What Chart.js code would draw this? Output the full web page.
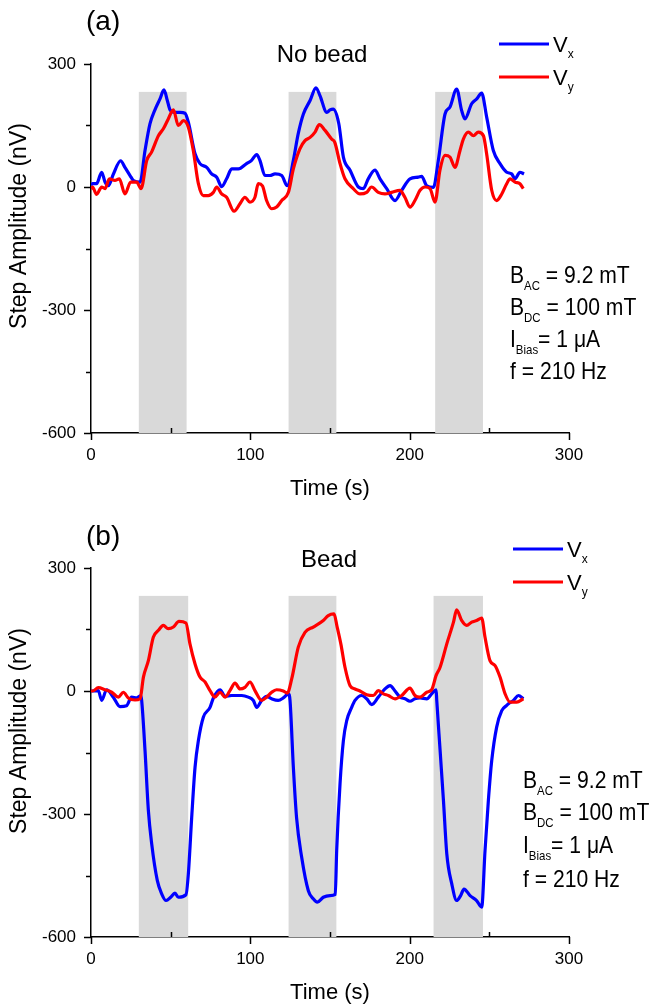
<!DOCTYPE html>
<html>
<head>
<meta charset="utf-8">
<script src="https://cdn.jsdelivr.net/npm/chart.js@4.4.1/dist/chart.umd.min.js"></script>
<style>
  html, body { margin: 0; padding: 0; background: #fff; }
  .panel { position: absolute; left: 0; width: 650px; height: 503px; }
</style>
</head>
<body>
<div class="panel" style="top:0"><canvas id="chartA" width="650" height="503"></canvas></div>
<div class="panel" style="top:504px"><canvas id="chartB" width="650" height="503"></canvas></div>
<script>
// ---- data (time in s, amplitude in nV) ----
const timeVxA = [0, 1, 3.5, 6.7, 8.8, 10.9, 14, 18.6, 21.3, 24.5, 26.6, 30.8, 33.9, 37, 40, 43.3, 45.8, 47.9, 49.6, 52.7, 55.9, 59, 61.1, 65.3, 68.4, 72.6, 75.7, 78.9, 82, 85.1, 88.3, 92.5, 97.6, 100.8, 104, 106, 109.2, 112.3, 115.5, 119.7, 123.2, 127, 130, 133.3, 137.5, 141.2, 143.7, 148, 150, 152, 155.5, 158.4, 162.6, 167.8, 170.9, 174, 178.2, 181.4, 185.6, 190.8, 195, 200.2, 205.4, 207.5, 210.7, 214.9, 218, 222.2, 225.3, 229.5, 232.6, 234.7, 238.9, 242.1, 245.2, 248.3, 252.5, 256.7, 260.9, 264, 266.1, 269.2, 271.8];
const vxA = [5, 8, 8, 36, 12, 3, 31, 64, 48, 28, 16, 12, 89, 154, 187, 215, 237, 211, 188, 182, 182, 180, 158, 81, 57, 48, 32, 24, 1, 20, 44, 44, 57, 65, 79, 65, 28, 28, 32, 28, 3, 65, 129, 178, 211, 242, 223, 182, 188, 190, 155, 73, 41, 0, -4, 20, 41, 20, -4, -33, -8, 20, 24, 26, 3, -1, 65, 178, 195, 239, 187, 166, 203, 215, 229, 171, 89, 57, 36, 32, 20, 36, 32];

const timeVyA = [0, 1, 3.5, 6.7, 8.8, 11.5, 15, 17.8, 21.3, 24.9, 28.7, 31.4, 35, 38, 42.3, 45.4, 48.5, 51.7, 54.8, 58, 61.1, 64.2, 67.4, 70.5, 73.6, 76.8, 78.9, 82, 85.1, 89.8, 93.5, 96.6, 99.7, 102.9, 105, 107.6, 110.2, 113.4, 116.5, 119.7, 123.9, 127, 131.1, 134.3, 137.5, 140.6, 143.3, 146.9, 151, 153, 156.3, 159.4, 164.6, 168.8, 173, 176.1, 180.3, 184.5, 188.7, 193.9, 197, 200.2, 203.3, 206.5, 209.6, 212.8, 215.9, 219, 222.2, 225.3, 228.4, 231.6, 233.7, 236.8, 240, 243.1, 246.3, 248.3, 251.5, 254.6, 257.8, 260.9, 263, 266.1, 269.2, 271.3];
const vyA = [-5, 0, -18, 0, -4, 20, 16, 20, -17, 12, 12, -4, 65, 85, 125, 142, 166, 188, 150, 162, 146, 89, 8, -21, -21, -13, 0, -17, -25, -59, -41, -25, -37, -25, 8, 3, -33, -53, -49, -33, -13, 44, 93, 113, 121, 134, 152, 138, 117, 109, 57, 20, -4, -17, -13, 0, -13, -17, -13, -8, -25, -49, -33, -8, 0, -4, -37, 41, 77, 73, 48, 89, 117, 134, 125, 134, 125, 81, -8, -33, -17, 8, 20, 12, 8, -4];

const timeVxB = [0, 1, 4.6, 6.7, 9.8, 14, 18.2, 22.3, 25.5, 28.7, 31.2, 31.8, 33.9, 36, 38.1, 41.6, 44.4, 47.1, 50, 52.7, 54.8, 59.6, 61.1, 63.2, 65.3, 67.4, 70.5, 74.7, 76.8, 81, 84.1, 88.3, 94.6, 98.7, 101.9, 104, 107.1, 110.2, 113.4, 117.5, 120.7, 123.9, 124.9, 127, 129, 132.2, 136.4, 139.5, 142, 145.8, 150, 153.3, 154.2, 156.3, 158.4, 160.5, 163.6, 165.7, 169.9, 173, 176.2, 180.3, 184.5, 187.7, 190.8, 194, 197.1, 200.2, 203.3, 206.5, 210.7, 213.8, 216.6, 217, 219.1, 221.2, 223.3, 226.4, 229.5, 232, 234.1, 237.9, 242, 245.2, 247.3, 249.4, 251.5, 254.6, 257.8, 260.9, 262, 265.1, 268.3, 271.4];
const vxB = [0, 0, 1, -23, 3, -15, -38, -36, -15, -17, -11, -23, -145, -291, -373, -462, -495, -511, -503, -493, -503, -497, -446, -308, -186, -121, -64, -40, -17, 3, -13, -11, -11, -15, -23, -40, -23, -13, -19, -23, -17, -7, -23, -186, -308, -405, -487, -507, -515, -503, -499, -496, -389, -226, -121, -72, -40, -23, -11, -19, -33, -15, 5, 13, 0, -15, -19, -25, -19, -17, -19, -7, 3, -23, -145, -267, -397, -470, -511, -499, -483, -499, -511, -527, -389, -267, -170, -88, -48, -35, -31, -23, -11, -19];

const timeVyB = [0, 1, 4.6, 8.8, 13, 17.2, 20.3, 23.4, 27.6, 30.8, 32.9, 36, 39.1, 42.3, 45.4, 48.5, 51.7, 55.2, 59.6, 62.1, 65.3, 68.4, 71.6, 74.7, 77.8, 81, 84.1, 87.2, 90.4, 93.5, 96.6, 99.8, 102.9, 107.1, 110.2, 113.4, 116.5, 120.7, 123.2, 126, 130.1, 134.3, 139.5, 145.8, 148.9, 152.5, 154.5, 156.8, 159.4, 162.6, 165.7, 168.8, 173, 177.2, 180.3, 183.5, 186.6, 190.8, 195, 200.2, 203.3, 206.5, 210.7, 213.8, 216.6, 219.1, 223.3, 227.5, 229.5, 232.6, 235.8, 238.9, 242.1, 245.2, 247.3, 250.4, 253.6, 256.7, 259.9, 263, 267.2, 271.4];
const vyB = [0, 0, 8, 3, -3, -15, -3, -17, -22, -19, 34, 74, 131, 148, 160, 152, 156, 170, 166, 115, 66, 34, 22, 1, -15, -3, -15, 1, 19, 5, 9, 22, 1, -23, -15, -3, 3, 0, -5, 30, 107, 143, 156, 172, 184, 188, 156, 115, 58, 13, 5, 0, -9, -11, 1, -7, -11, -19, -11, 7, -11, -15, -3, 3, 38, 58, 115, 168, 198, 172, 160, 168, 172, 178, 131, 74, 62, 34, -7, -27, -27, -19];

// field-on intervals (grey bands)
const shadeStartA = [30, 124, 216];
const shadeEndA = [60, 154, 246];
const shadeStartB = [30, 124, 215];
const shadeEndB = [61, 154, 246];
const shadeTop = 232;

const xTickValues = [0, 50, 100, 150, 200, 250, 300];
const yTickValues = [300, 150, 0, -150, -300, -450, -600];

const FONT = '"Liberation Sans", Arial, sans-serif';

function toPoints(times, values) {
    return times.map((t, i) => ({ x: t, y: values[i] }));
}

// text with subscripts: parts = [[text, isSub], ...], sx squeezes horizontally
function drawRich(ctx, x, y, parts, size, sx) {
    ctx.save();
    ctx.translate(x, y);
    ctx.scale(sx || 1, 1);
    let cx = 0;
    parts.forEach(([txt, sub]) => {
        const s = sub ? Math.round(size * 0.55) : size;
        ctx.font = s + 'px ' + FONT;
        ctx.fillText(txt, cx, sub ? size * 0.28 : 0);
        cx += ctx.measureText(txt).width;
    });
    ctx.restore();
}

const decorPlugin = {
    id: 'decor',
    beforeDatasetsDraw(chart, args, opts) {
        const { ctx, scales: { x, y } } = chart;
        ctx.save();
        ctx.fillStyle = '#d9d9d9';
        opts.shadeStart.forEach((s, i) => {
            const x0 = x.getPixelForValue(s);
            const x1 = x.getPixelForValue(opts.shadeEnd[i]);
            const yt = y.getPixelForValue(shadeTop);
            const yb = y.getPixelForValue(-600);
            ctx.fillRect(x0, yt, x1 - x0, yb - yt);
        });
        ctx.restore();
    },
    afterDraw(chart, args, opts) {
        const { ctx, chartArea, scales: { x, y } } = chart;
        ctx.save();
        ctx.strokeStyle = '#000';
        ctx.lineWidth = 1.5;
        // y ticks, all outward
        yTickValues.forEach(v => {
            const py = Math.round(y.getPixelForValue(v)) + 0.5;
            const len = v % 300 === 0 ? 7 : 5;
            ctx.beginPath();
            ctx.moveTo(chartArea.left, py);
            ctx.lineTo(chartArea.left - len, py);
            ctx.stroke();
        });
        // x ticks: major outward, minor inward
        xTickValues.forEach(t => {
            const px = Math.round(x.getPixelForValue(t)) + 0.5;
            const major = t % 100 === 0;
            ctx.beginPath();
            ctx.moveTo(px, chartArea.bottom);
            ctx.lineTo(px, major ? chartArea.bottom + 7 : chartArea.bottom - 5);
            ctx.stroke();
        });

        ctx.fillStyle = '#000';
        ctx.textBaseline = 'alphabetic';
        ctx.textAlign = 'left';

        // panel letter and title
        ctx.font = '28px ' + FONT;
        ctx.fillText(opts.letter, opts.letterX, opts.letterY);
        ctx.textAlign = 'center';
        ctx.font = '24px ' + FONT;
        ctx.fillText(opts.title, opts.titleX, opts.titleY);

        // y axis title
        ctx.save();
        ctx.translate(opts.yTitleX, opts.yTitleY);
        ctx.rotate(-Math.PI / 2);
        ctx.font = '23px ' + FONT;
        ctx.textBaseline = 'middle';
        ctx.fillText('Step Amplitude (nV)', 0, 0);
        ctx.restore();

        // legend
        ctx.textAlign = 'left';
        chart.data.datasets.slice().reverse().forEach((ds, i) => {
            const ly = opts.legendY[i];
            ctx.strokeStyle = ds.borderColor;
            ctx.lineWidth = 3;
            ctx.beginPath();
            ctx.moveTo(opts.legendX, ly);
            ctx.lineTo(opts.legendX + 50, ly);
            ctx.stroke();
            drawRich(ctx, opts.legendX + 54, ly + 8, [['V', false], [ds.sub, true]], 22);
        });

        // settings box
        const lines = [
            [['B', false], ['AC', true], [' = 9.2 mT', false]],
            [['B', false], ['DC', true], [' = 100 mT', false]],
            [['I', false], ['Bias', true], ['= 1 \u03bcA', false]],
            [['f = 210 Hz', false]]
        ];
        lines.forEach((parts, i) => drawRich(ctx, opts.noteX, opts.noteY[i], parts, 24, 0.88));
        ctx.restore();
    }
};

function makeChart(id, timesX, valsX, timesY, valsY, decor) {
    return new Chart(document.getElementById(id), {
        type: 'line',
        data: {
            datasets: [
                {
                    label: 'Vy', sub: 'y',
                    data: toPoints(timesY, valsY),
                    borderColor: '#ff0000',
                    borderWidth: 3.2,
                    pointRadius: 0,
                    cubicInterpolationMode: 'monotone',
                    order: 0
                },
                {
                    label: 'Vx', sub: 'x',
                    data: toPoints(timesX, valsX),
                    borderColor: '#0000ff',
                    borderWidth: 3.2,
                    pointRadius: 0,
                    cubicInterpolationMode: 'monotone',
                    order: 1
                }
            ]
        },
        options: {
            responsive: false,
            animation: false,
            events: [],
            layout: { padding: { left: 0, right: 81, top: 64, bottom: 0 } },
            plugins: {
                legend: { display: false },
                tooltip: { enabled: false },
                decor: decor
            },
            scales: {
                x: {
                    type: 'linear',
                    min: 0,
                    max: 300,
                    grid: { display: false, drawTicks: false },
                    border: { display: true, color: '#000', width: 1.5 },
                    ticks: { stepSize: 100, color: '#000', padding: 12, font: { family: FONT, size: 17 } },
                    title: { display: true, text: 'Time (s)', color: '#000', padding: { top: 1, bottom: 1 }, font: { family: FONT, size: 22 } },
                    afterFit: s => { s.height = 70; }
                },
                y: {
                    type: 'linear',
                    min: -600,
                    max: 300,
                    grid: { display: false, drawTicks: false },
                    border: { display: true, color: '#000', width: 1.5 },
                    ticks: { stepSize: 300, color: '#000', padding: 15, font: { family: FONT, size: 17 } },
                    afterFit: s => { s.width = 91; }
                }
            }
        },
        plugins: [decorPlugin]
    });
}

makeChart('chartA', timeVxA, vxA, timeVyA, vyA, {
    shadeStart: shadeStartA, shadeEnd: shadeEndA,
    letter: '(a)', letterX: 86, letterY: 30,
    title: 'No bead', titleX: 322, titleY: 62,
    yTitleX: 20, yTitleY: 226,
    legendX: 499, legendY: [44, 77],
    noteX: 510, noteY: [283, 315, 347, 379]
});

makeChart('chartB', timeVxB, vxB, timeVyB, vyB, {
    shadeStart: shadeStartB, shadeEnd: shadeEndB,
    letter: '(b)', letterX: 86, letterY: 41,
    title: 'Bead', titleX: 329, titleY: 63,
    yTitleX: 20, yTitleY: 227,
    legendX: 513, legendY: [45, 78],
    noteX: 523, noteY: [284, 316, 349, 383]
});
</script>
</body>
</html>
